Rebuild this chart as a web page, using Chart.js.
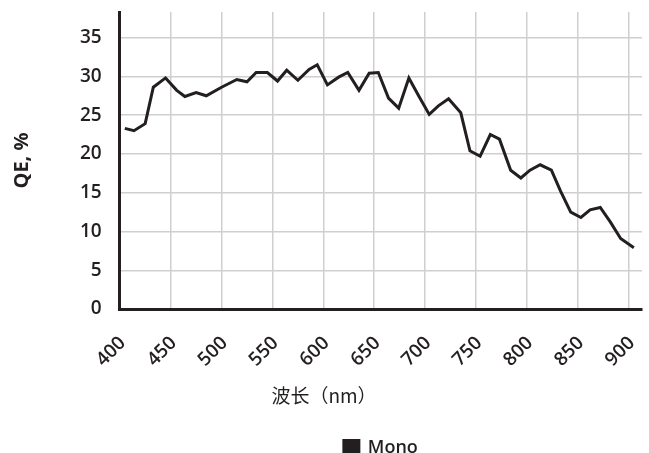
<!DOCTYPE html>
<html>
<head>
<meta charset="utf-8">
<script src="https://cdn.jsdelivr.net/npm/chart.js@4/dist/chart.umd.min.js"></script>
<style>
    html, body { margin: 0; padding: 0; background: #fff; }
    #wrap { width: 649px; height: 453px; }
</style>
</head>
<body>
<div id="wrap"><canvas id="qe"></canvas></div>
<script>
const LINE_COLOR = '#231f20';
const GRID_COLOR = '#cfcfd2';
const FONT = "'Open Sans', sans-serif";

const wavelengths = [405, 414, 425, 433, 445, 456, 464, 475, 485, 500, 515, 525, 534, 545, 555, 564, 575, 586, 594, 604, 615, 624, 635, 645, 654, 664, 674, 684, 694, 704, 713, 723, 735, 744, 754, 764, 773, 784, 794, 803, 813, 824, 833, 843, 853, 862, 872, 882, 892, 905];
const qeMono = [23.3, 23.0, 23.9, 28.6, 29.8, 28.2, 27.4, 27.9, 27.5, 28.6, 29.6, 29.3, 30.5, 30.5, 29.4, 30.8, 29.5, 30.9, 31.5, 28.9, 29.9, 30.5, 28.2, 30.4, 30.5, 27.2, 25.9, 29.8, 27.4, 25.1, 26.2, 27.1, 25.3, 20.4, 19.7, 22.5, 21.9, 17.9, 16.9, 17.9, 18.6, 17.9, 15.2, 12.5, 11.8, 12.8, 13.1, 11.2, 9.1, 7.9];
const xTitle = '波长（nm）';
const yTitle = 'QE, %';

const keepSteps = step => axis => {
    axis.ticks = axis.ticks.filter(t => t.value % step === 0);
};

new Chart(document.getElementById('qe'), {
    type: 'line',
    data: {
        datasets: [{
            label: 'Mono',
            data: wavelengths.map((w, i) => ({x: w, y: qeMono[i]})),
            borderColor: LINE_COLOR,
            backgroundColor: LINE_COLOR,
            borderWidth: 3,
            pointRadius: 0,
            tension: 0,
        }]
    },
    options: {
        responsive: true,
        maintainAspectRatio: false,
        animation: false,
        layout: {padding: {top: 12, left: 6, right: 7, bottom: -14}},
        plugins: {
            // x title as a full-width bottom title so it centres on the canvas
            title: {
                display: true,
                position: 'bottom',
                text: xTitle,
                color: LINE_COLOR,
                weight: 500,
                font: {family: "'Noto Sans CJK SC', sans-serif", size: 19, weight: 400},
                padding: {top: 0, bottom: 24},
            },
            legend: {
                position: 'bottom',
                fullSize: false,
                labels: {
                    color: LINE_COLOR,
                    boxWidth: 15,
                    boxHeight: 15,
                    font: {family: FONT, size: 18, weight: 600},
                    padding: 8,
                }
            },
            tooltip: {enabled: false}
        },
        scales: {
            x: {
                type: 'linear',
                min: 400,
                max: 913,
                afterBuildTicks: keepSteps(50),
                afterFit: axis => {
                    axis.paddingRight = 0;
                    axis.height -= 10;
                },
                ticks: {
                    stepSize: 50,
                    includeBounds: false,
                    autoSkip: false,
                    minRotation: 45,
                    maxRotation: 45,
                    labelOffset: 3,
                    color: LINE_COLOR,
                    font: {family: FONT, size: 19, weight: 600},
                    padding: 23,
                },
                grid: {color: GRID_COLOR, lineWidth: 1.5, drawTicks: false},
                border: {color: LINE_COLOR, width: 3},
            },
            y: {
                min: 0,
                max: 38.3,
                afterBuildTicks: keepSteps(5),
                afterFit: axis => {
                    axis.paddingTop = 0;
                },
                ticks: {
                    stepSize: 5,
                    includeBounds: false,
                    color: LINE_COLOR,
                    font: {family: FONT, size: 19, weight: 600},
                    padding: 18,
                },
                grid: {color: GRID_COLOR, lineWidth: 1.5, drawTicks: false},
                border: {color: LINE_COLOR, width: 3},
                title: {
                    display: true,
                    text: yTitle,
                    color: LINE_COLOR,
                    font: {family: FONT, size: 20, weight: 700},
                    padding: {bottom: 28},
                }
            }
        }
    }
});
</script>
</body>
</html>
